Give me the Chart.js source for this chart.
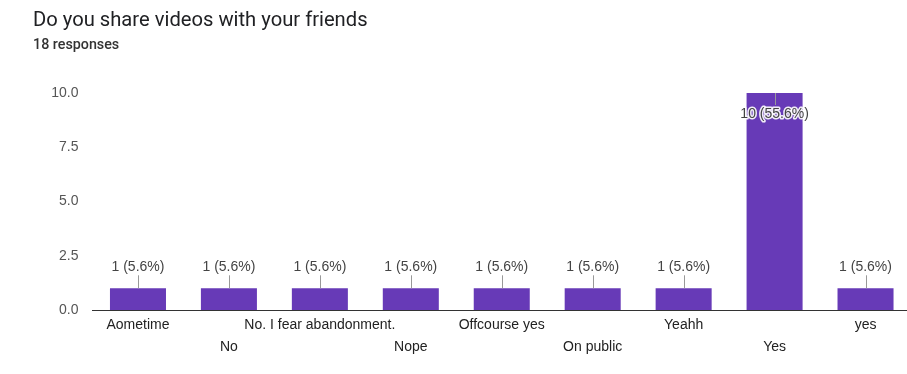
<!DOCTYPE html>
<html>
<head>
<meta charset="utf-8">
<script src="https://cdn.jsdelivr.net/npm/chart.js@4"></script>
<style>
  html, body { margin: 0; padding: 0; background: #fff; overflow: hidden; width: 907px; height: 374px; }
  #wrap { position: relative; width: 907px; height: 374px; overflow: hidden; }
  #title { position: absolute; left: 33px; top: 7px; font: 20.2px Roboto, sans-serif; color: #202124; white-space: nowrap; }
  #sub { position: absolute; left: 33px; top: 36px; font: 500 14.3px Roboto, sans-serif; color: #333; white-space: nowrap; }
  canvas { position: absolute; left: 0; top: 0; }
</style>
</head>
<body>
<div id="wrap">
  <canvas id="chart" width="911" height="374"></canvas>
  <div id="title">Do you share videos with your friends</div>
  <div id="sub">18 responses</div>
</div>
<script>
const categories = ["Aometime", "No", "No. I fear abandonment.", "Nope", "Offcourse yes", "On public", "Yeahh", "Yes", "yes"];
const counts = [1, 1, 1, 1, 1, 1, 1, 10, 1];
const yTicks = [0, 2.5, 5, 7.5, 10];

const total = counts.reduce((s, v) => s + v, 0);
const fontFamily = "'Liberation Sans', Arial, sans-serif";

const valueLabels = {
  id: "valueLabels",
  afterDatasetsDraw(chart) {
    const ctx = chart.ctx;
    const meta = chart.getDatasetMeta(0);
    ctx.save();
    ctx.font = "14px " + fontFamily;
    ctx.textAlign = "center";
    ctx.textBaseline = "middle";
    meta.data.forEach((bar, i) => {
      const v = counts[i];
      const text = v + " (" + (v / total * 100).toFixed(1) + "%)";
      const h = bar.base - bar.y;
      let ty, l1, l2;
      if (h > 60) {
        ty = bar.y + 21; l1 = bar.y; l2 = bar.y + 12;
      } else {
        ty = bar.y - 21; l1 = bar.y - 13; l2 = bar.y;
      }
      ctx.strokeStyle = "#999";
      ctx.lineWidth = 1;
      ctx.beginPath();
      ctx.moveTo(Math.round(bar.x) + 0.5, l1);
      ctx.lineTo(Math.round(bar.x) + 0.5, l2);
      ctx.stroke();
      ctx.lineJoin = "round";
      ctx.lineWidth = 3;
      ctx.strokeStyle = "rgba(255,255,255,0.9)";
      ctx.strokeText(text, bar.x, ty);
      ctx.fillStyle = "#444";
      ctx.fillText(text, bar.x, ty);
    });
    ctx.restore();
  }
};

new Chart(document.getElementById("chart"), {
  type: "bar",
  data: {
    labels: categories,
    datasets: [{
      data: counts,
      backgroundColor: "#673ab7",
      barPercentage: 0.616,
      categoryPercentage: 1
    }]
  },
  options: {
    responsive: false,
    animation: false,
    layout: { padding: { top: 93, left: 0, right: 0, bottom: 0 } },
    plugins: {
      legend: { display: false },
      tooltip: { enabled: false }
    },
    scales: {
      x: {
        grid: { display: false, drawTicks: false },
        border: { display: true, color: "#333", width: 1 },
        ticks: {
          autoSkip: false,
          maxRotation: 0,
          minRotation: 0,
          padding: 4,
          color: "#222",
          font: { family: fontFamily, size: 14, lineHeight: 1.57 },
          callback: (v, i) => (i % 2 ? ["", categories[i]] : categories[i])
        },
        afterFit: (scale) => { scale.height = 64; }
      },
      y: {
        min: 0,
        max: 10,
        grid: { display: false, drawTicks: false },
        border: { display: false },
        afterBuildTicks: (scale) => { scale.ticks = yTicks.map(v => ({ value: v })); },
        ticks: {
          padding: 14,
          color: "#555",
          font: { family: fontFamily, size: 14 },
          callback: (v) => Number(v).toFixed(1)
        },
        afterFit: (scale) => { scale.width = 92.5; }
      }
    }
  },
  plugins: [valueLabels]
});
</script>
</body>
</html>
